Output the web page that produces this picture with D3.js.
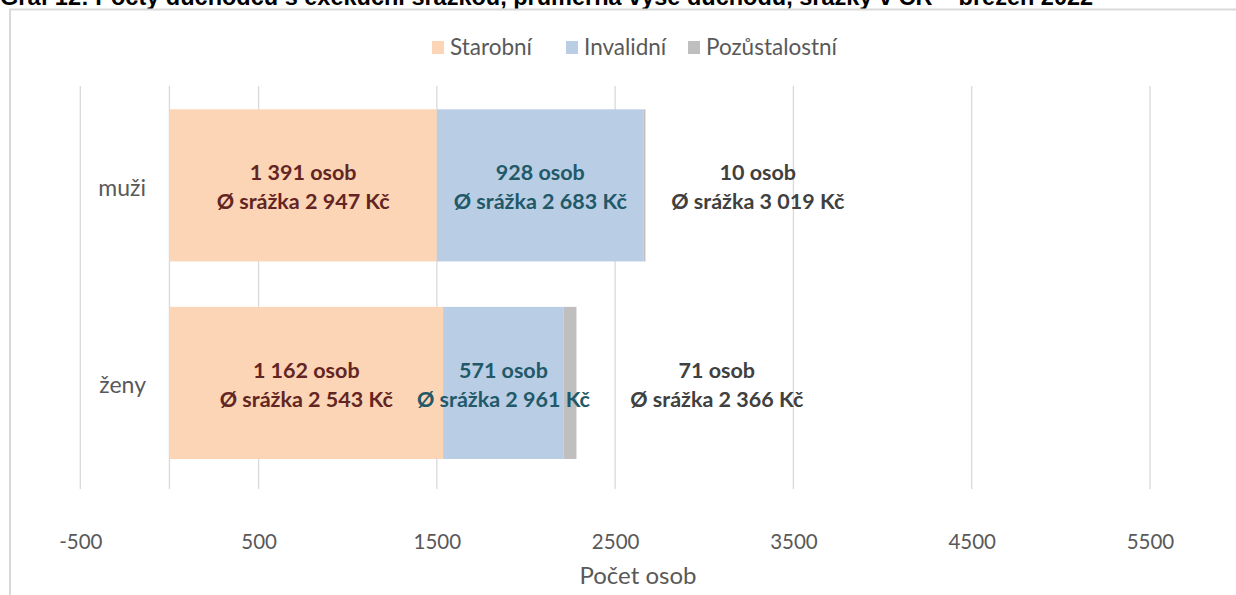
<!DOCTYPE html>
<html>
<head>
<meta charset="utf-8">
<script src="https://cdn.jsdelivr.net/npm/d3@7"></script>
<style>
  html, body { margin: 0; padding: 0; background: #fff; }
  svg { display: block; }
</style>
</head>
<body>
<svg id="chart" width="1236" height="595"></svg>
<script>
// ---------- data ----------
const categories = ["muži", "ženy"];
const seriesNames = ["Starobní", "Invalidní", "Pozůstalostní"];
const starobni = [1500, 1535];
const invalidni = [1160, 677];
const pozustalostni = [10, 71];
// label texts
const labelCounts = {
  "Starobní": ["1 391", "1 162"],
  "Invalidní": ["928", "571"],
  "Pozůstalostní": ["10", "71"]
};
const labelDeductions = {
  "Starobní": ["2 947", "2 543"],
  "Invalidní": ["2 683", "2 961"],
  "Pozůstalostní": ["3 019", "2 366"]
};
const tickValues = [-500, 500, 1500, 2500, 3500, 4500, 5500];
const xDomain = [-500, 6000];
const titleText = "Graf 12: Počty důchodců s exekuční srážkou, průměrná výše důchodu, srážky v ČR – březen 2022";
const axisTitle = "Počet osob";

// ---------- styles / layout ----------
const colors = { "Starobní": "#FBD5B5", "Invalidní": "#B9CDE5", "Pozůstalostní": "#BFBFBF" };
const labelColors = { "Starobní": "#632523", "Invalidní": "#215968", "Pozůstalostní": "#404040" };
const outsideLabelX = [3300, 3070]; // data-unit anchor for the outside (Pozůstalostní) labels
const FONT = "Lato, 'Open Sans', sans-serif";

const svg = d3.select("#chart");

// title (cut by top edge, as in the reference)
svg.append("text")
  .attr("x", 0).attr("y", 5)
  .attr("font-family", "'Liberation Sans', Arial, sans-serif")
  .attr("font-weight", "bold").attr("font-size", 23.5)
  .attr("fill", "#000")
  .text(titleText);

// chart frame
svg.append("rect")
  .attr("x", 10).attr("y", 9.5).attr("width", 1240).attr("height", 600)
  .attr("fill", "none").attr("stroke", "#D9D9D9").attr("stroke-width", 2);

const x = d3.scaleLinear().domain(xDomain).range([80.3, 80.3 + 6500 * 0.17828]);
const y = d3.scaleBand().domain(categories).range([86.6, 481.7]).paddingInner(0.23).paddingOuter(0.115);

// gridlines
svg.append("g").selectAll("line").data(tickValues).join("line")
  .attr("x1", d => x(d)).attr("x2", d => x(d))
  .attr("y1", 86).attr("y2", 489)
  .attr("stroke", "#D9D9D9").attr("stroke-width", 1.3);

// axis at zero
svg.append("line")
  .attr("x1", x(0)).attr("x2", x(0)).attr("y1", 86).attr("y2", 489)
  .attr("stroke", "#D9D9D9").attr("stroke-width", 1.3);

// x axis tick labels
const xAxis = d3.axisBottom(x).tickValues(tickValues).tickSize(0).tickPadding(0).tickFormat(d => String(d));
const gx = svg.append("g").attr("transform", "translate(0,534)").call(xAxis);
gx.select(".domain").remove();
gx.selectAll("text")
  .attr("font-family", FONT).attr("font-size", 20.5).attr("fill", "#595959");

// y axis labels
const yAxis = d3.axisLeft(y).tickSize(0).tickPadding(0);
const gy = svg.append("g").attr("transform", "translate(146,3)").call(yAxis);
gy.select(".domain").remove();
gy.selectAll("text")
  .attr("font-family", FONT).attr("font-size", 23).attr("fill", "#595959");

// stacked bars
const rows = categories.map((c, i) => ({
  cat: c, "Starobní": starobni[i], "Invalidní": invalidni[i], "Pozůstalostní": pozustalostni[i]
}));
const stack = d3.stack().keys(seriesNames)(rows);

const layers = svg.append("g").selectAll("g").data(stack).join("g")
  .attr("fill", d => colors[d.key]);
layers.selectAll("rect").data(d => d).join("rect")
  .attr("x", d => x(d[0]))
  .attr("width", d => x(d[1]) - x(d[0]))
  .attr("y", d => y(d.data.cat))
  .attr("height", y.bandwidth());

// data labels
const labelG = svg.append("g")
  .attr("font-family", FONT).attr("font-weight", "bold").attr("font-size", 21.5)
  .attr("text-anchor", "middle");
stack.forEach(layer => {
  layer.forEach((d, i) => {
    const key = layer.key;
    const cx = key === "Pozůstalostní" ? x(outsideLabelX[i]) : (x(d[0]) + x(d[1])) / 2;
    const cy = y(d.data.cat) + y.bandwidth() / 2;
    const t = labelG.append("text").attr("fill", labelColors[key]);
    t.append("tspan").attr("x", cx).attr("y", cy - 5).text(labelCounts[key][i] + " osob");
    t.append("tspan").attr("x", cx).attr("y", cy + 24).text("Ø srážka " + labelDeductions[key][i] + " Kč");
  });
});

// legend
const legendItems = [
  { name: "Starobní", x: 432 },
  { name: "Invalidní", x: 566 },
  { name: "Pozůstalostní", x: 688 }
];
const lg = svg.append("g");
legendItems.forEach(it => {
  lg.append("rect").attr("x", it.x).attr("y", 41).attr("width", 12).attr("height", 13)
    .attr("fill", colors[it.name]);
  lg.append("text").attr("x", it.x + 18).attr("y", 55)
    .attr("font-family", FONT).attr("font-size", 22.5).attr("fill", "#595959")
    .text(it.name);
});

// axis title
svg.append("text")
  .attr("x", 638).attr("y", 584).attr("text-anchor", "middle")
  .attr("font-family", FONT).attr("font-size", 24).attr("fill", "#595959")
  .text(axisTitle);
</script>
</body>
</html>
